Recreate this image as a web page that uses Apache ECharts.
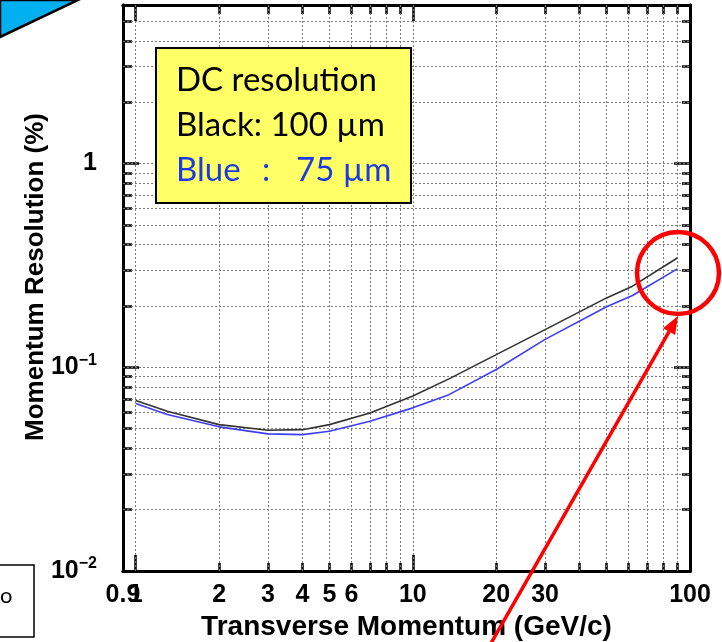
<!DOCTYPE html>
<html>
<head>
<meta charset="utf-8">
<script src="https://cdn.jsdelivr.net/npm/echarts@6/dist/echarts.min.js"></script>
<style>
  html, body { margin: 0; padding: 0; background: #ffffff; }
  #chart { width: 722px; height: 642px; }
</style>
</head>
<body>
<div id="chart"></div>
<script>
// Transverse momentum (GeV/c) sampled along the curves
const ptValues = [1, 1.3, 2, 3, 4, 5, 7, 10, 13.5, 20, 30, 50, 62, 90];
// Momentum resolution (%) with 100 µm drift-chamber resolution
const res100um = [0.0687, 0.0608, 0.0523, 0.0491, 0.0494, 0.0523, 0.0597, 0.0722, 0.0877, 0.1154, 0.153, 0.219, 0.250, 0.344];
// Momentum resolution (%) with 75 µm drift-chamber resolution
const res75um = [0.0664, 0.0586, 0.0510, 0.0471, 0.0467, 0.0485, 0.0543, 0.0632, 0.0734, 0.0975, 0.137, 0.198, 0.225, 0.304];

// Axis ticks and labels
const xMajorTicks = [1, 10, 100];
const xMinorTicks = [2, 3, 4, 5, 6, 7, 8, 9, 20, 30, 40, 50, 60, 70, 80, 90];
const xTickLabels = [0.9, 2, 3, 4, 5, 6, 10, 20, 30, 100];
const xTickLabelsOverlay = [1];   // "1" is printed on top of the "0.9" label
const yMajorTicks = [0.1, 1];
const yMinorTicks = [0.02, 0.03, 0.04, 0.05, 0.06, 0.07, 0.08, 0.09,
                     0.2, 0.3, 0.4, 0.5, 0.6, 0.7, 0.8, 0.9, 2, 3, 4, 5];
const yTickLabels = [0.01, 0.1, 1];

const X_MIN = 0.9, X_MAX = 100, Y_MIN = 0.01, Y_MAX = 6;

const FONT = 'Liberation Sans, Arial, sans-serif';
const NOTE_FONT = 'Lato, "Open Sans", sans-serif';

// Dotted grid on every major and minor tick inside the frame
const xGridValues = xMajorTicks.concat(xMinorTicks).filter(v => v > X_MIN && v < X_MAX);
const yGridValues = yMajorTicks.concat(yMinorTicks).filter(v => v > Y_MIN && v < Y_MAX);

function pair(xs, ys) { return xs.map((x, i) => [x, ys[i]]); }

function frameAxis(dim, position, ticks, tickLen, extra) {
  const lim = dim === 'x' ? { min: X_MIN, max: X_MAX } : { min: Y_MIN, max: Y_MAX };
  return Object.assign({
    type: 'log',
    logBase: 10,
    position: position,
    min: lim.min,
    max: lim.max,
    axisLine: { show: true, onZero: false, lineStyle: { color: '#000', width: 3 } },
    axisTick: { show: true, inside: true, length: tickLen, customValues: ticks,
                lineStyle: { color: '#000', width: 2.5 } },
    axisLabel: { show: false },
    splitLine: { show: false },
    minorTick: { show: false },
    minorSplitLine: { show: false },
    axisPointer: { show: false }
  }, extra || {});
}

function xLabels(values) {
  return {
    show: true,
    customValues: values,
    margin: 12,
    color: '#000',
    fontFamily: FONT,
    fontWeight: 'bold',
    fontSize: 25,
    showMinLabel: true,
    showMaxLabel: true,
    hideOverlap: false,
    formatter: function (v) { return String(Math.round(v * 10) / 10); }
  };
}

const yLabelCfg = {
  show: true,
  customValues: yTickLabels,
  margin: 26,
  showMinLabel: true,
  showMaxLabel: true,
  hideOverlap: false,
  formatter: function (v) {
    const p = Math.round(Math.log10(v));
    if (p === 0) return '{n|1}';
    return '{n|10}{s|\u2212' + (-p) + '}';
  },
  rich: {
    n: { fontFamily: FONT, fontWeight: 'bold', fontSize: 25, color: '#000', lineHeight: 30 },
    s: { fontFamily: FONT, fontWeight: 'bold', fontSize: 16, color: '#000', verticalAlign: 'top', lineHeight: 18 }
  }
};

const chart = echarts.init(document.getElementById('chart'), null, { renderer: 'canvas' });

// Arrow geometry for the annotation pointing at the high-pT end
const arrowTail = [490, 645];
const arrowTip = [678, 316];
const ax = arrowTip[0] - arrowTail[0], ay = arrowTip[1] - arrowTail[1];
const alen = Math.sqrt(ax * ax + ay * ay);
const ux = ax / alen, uy = ay / alen;
const headLen = 18, headHalf = 7;
const baseX = arrowTip[0] - ux * headLen, baseY = arrowTip[1] - uy * headLen;

const option = {
  animation: false,
  backgroundColor: '#ffffff',
  grid: { left: 123, right: 32, top: 5, bottom: 71, containLabel: false, outerBoundsMode: 'none' },
  xAxis: [
    frameAxis('x', 'bottom', xMajorTicks, 16, {
      axisLabel: xLabels(xTickLabels),
      name: 'Transverse Momentum (GeV/c)',
      nameLocation: 'middle',
      nameGap: 36,
      nameTextStyle: { fontFamily: FONT, fontWeight: 'bold', fontSize: 28, color: '#000' }
    }),
    frameAxis('x', 'bottom', xMinorTicks, 8, { axisLabel: xLabels(xTickLabelsOverlay) }),
    frameAxis('x', 'top', xMajorTicks, 16),
    frameAxis('x', 'top', xMinorTicks, 9)
  ],
  yAxis: [
    frameAxis('y', 'left', yMajorTicks, 16, { axisLabel: yLabelCfg }),
    frameAxis('y', 'left', yMinorTicks, 9),
    frameAxis('y', 'right', yMajorTicks, 16),
    frameAxis('y', 'right', yMinorTicks, 8)
  ],
  series: [
    {
      name: 'grid',
      type: 'line',
      xAxisIndex: 0,
      yAxisIndex: 0,
      data: [],
      silent: true,
      z: 1,
      markLine: {
        silent: true,
        symbol: ['none', 'none'],
        label: { show: false },
        animation: false,
        z: 1,
        lineStyle: { color: '#7a7a7a', width: 1, type: [2, 2] },
        emphasis: { disabled: true },
        data: xGridValues.map(v => ({ xAxis: v })).concat(yGridValues.map(v => ({ yAxis: v })))
      }
    },
    {
      name: 'Black: 100 µm',
      type: 'line',
      xAxisIndex: 0,
      yAxisIndex: 0,
      data: pair(ptValues, res100um),
      showSymbol: false,
      symbol: 'none',
      z: 5,
      lineStyle: { color: '#333333', width: 1.6 }
    },
    {
      name: 'Blue : 75 µm',
      type: 'line',
      xAxisIndex: 0,
      yAxisIndex: 0,
      data: pair(ptValues, res75um),
      showSymbol: false,
      symbol: 'none',
      z: 5,
      lineStyle: { color: '#3d3df2', width: 1.6 }
    }
  ],
  graphic: [
    // y-axis title
    {
      type: 'text', x: 36, y: 277, rotation: Math.PI / 2, z: 100,
      style: {
        text: 'Momentum Resolution (%)', fill: '#000',
        font: 'bold 26px ' + FONT, textAlign: 'center', textVerticalAlign: 'middle'
      }
    },
    // legend note
    {
      type: 'rect', z: 100,
      shape: { x: 156, y: 48, width: 255, height: 155 },
      style: { fill: '#ffff66', stroke: '#000', lineWidth: 2 }
    },
    {
      type: 'text', x: 176, y: 80, z: 101,
      style: { text: 'DC resolution', fill: '#000', font: '33px ' + NOTE_FONT, textVerticalAlign: 'middle' }
    },
    {
      type: 'text', x: 176, y: 125, z: 101,
      style: { text: 'Black: 100 µm', fill: '#000', font: '33px ' + NOTE_FONT, textVerticalAlign: 'middle' }
    },
    {
      type: 'text', x: 176, y: 170, z: 101,
      style: { text: 'Blue', fill: '#1d3be3', font: '33px ' + NOTE_FONT, textVerticalAlign: 'middle' }
    },
    {
      type: 'text', x: 262, y: 170, z: 101,
      style: { text: ':', fill: '#1d3be3', font: '33px ' + NOTE_FONT, textVerticalAlign: 'middle' }
    },
    {
      type: 'text', x: 296, y: 170, z: 101,
      style: { text: '75 µm', fill: '#1d3be3', font: '33px ' + NOTE_FONT, textVerticalAlign: 'middle' }
    },
    // red highlight circle
    {
      type: 'circle', z: 110,
      shape: { cx: 678, cy: 273, r: 41 },
      style: { fill: 'none', stroke: '#ff0000', lineWidth: 4.5 }
    },
    // red arrow
    {
      type: 'line', z: 110,
      shape: { x1: arrowTail[0], y1: arrowTail[1], x2: baseX, y2: baseY },
      style: { stroke: '#ff0000', lineWidth: 3.5 }
    },
    {
      type: 'polygon', z: 110,
      shape: { points: [
        arrowTip,
        [baseX - uy * headHalf, baseY + ux * headHalf],
        [baseX + uy * headHalf, baseY - ux * headHalf]
      ] },
      style: { fill: '#ff0000' }
    },
    // corner banner
    {
      type: 'polygon', z: 100,
      shape: { points: [[0, 0], [78, 0], [0, 37]] },
      style: { fill: '#00b0f0', stroke: '#000', lineWidth: 2.5 }
    },
    // side box
    {
      type: 'rect', z: 100,
      shape: { x: -2, y: 565, width: 36, height: 72 },
      style: { fill: '#ffffff', stroke: '#000', lineWidth: 1.5 }
    },
    {
      type: 'text', x: 0, y: 596, z: 101,
      style: { text: 'o', fill: '#000', font: '22px ' + NOTE_FONT, textVerticalAlign: 'middle' }
    }
  ]
};

chart.setOption(option);
</script>
</body>
</html>
